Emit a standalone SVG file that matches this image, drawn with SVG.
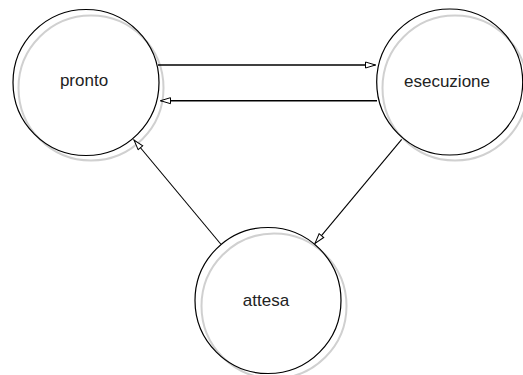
<svg xmlns="http://www.w3.org/2000/svg" width="523" height="375" viewBox="0 0 523 375">
<style>
.shadow{fill:none;stroke:#d0d0d0;stroke-width:2}
.st{fill:none;stroke:#000;stroke-width:1.2}
.lbl{font-family:"Liberation Sans",Arial,sans-serif;font-size:17px;fill:#222;text-anchor:middle}
.e{fill:none;stroke:#000}
</style>
<defs>
<marker id="ah" viewBox="0 0 12 8" refX="11" refY="4" markerWidth="12" markerHeight="8" markerUnits="userSpaceOnUse" orient="auto">
<path d="M1,1 L11,4 L1,7 Z" fill="#fff" stroke="#000" stroke-width="1"/>
</marker>
</defs>
<rect width="523" height="375" fill="#fff"/>
<g id="pronto">
<circle class="shadow" cx="91" cy="88" r="72.5"/>
<circle class="st" cx="86" cy="82.5" r="73"/>
<text class="lbl" x="84" y="86">pronto</text>
</g>
<g id="esecuzione">
<circle class="shadow" cx="455" cy="88" r="72.5"/>
<circle class="st" cx="449.7" cy="82" r="73"/>
<text class="lbl" x="447" y="87">esecuzione</text>
</g>
<g id="attesa">
<circle class="shadow" cx="274" cy="306" r="72.5"/>
<circle class="st" cx="268" cy="300.5" r="73"/>
<text class="lbl" x="266" y="305.5">attesa</text>
</g>
<g id="connectors">
<line class="e" stroke-width="1.6" x1="158" y1="65" x2="375.5" y2="65" marker-end="url(#ah)"/>
<line class="e" stroke-width="1.6" x1="377" y1="100.7" x2="160.5" y2="100.7" marker-end="url(#ah)"/>
<line class="e" stroke-width="1.1" x1="220.7" y1="244" x2="134" y2="140" marker-end="url(#ah)"/>
<line class="e" stroke-width="1.1" x1="401.7" y1="139.3" x2="315" y2="243.3" marker-end="url(#ah)"/>
</g>
</svg>
